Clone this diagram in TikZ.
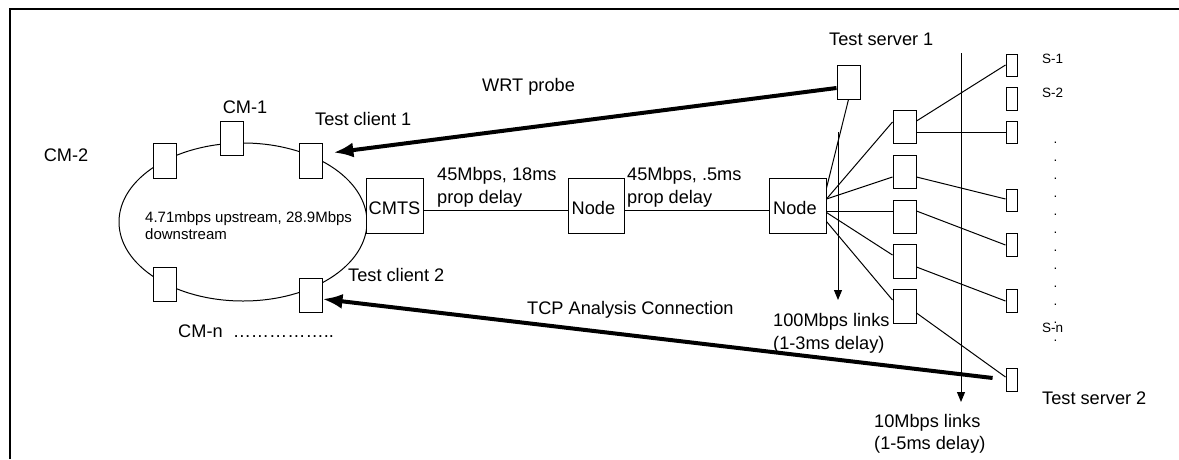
\documentclass[tikz,border=0pt]{standalone}
\usepackage{fontspec}
\setmainfont{Liberation Sans}
\usetikzlibrary{arrows.meta}
\begin{document}
\begin{tikzpicture}[x=1pt,y=-1pt,
  box/.style={draw, fill=white, line width=1pt, inner sep=0pt},
  cmbox/.style={box, minimum width=23pt, minimum height=34pt},
  bigbox/.style={box, minimum width=57pt, minimum height=55pt},
  srvbox/.style={box, minimum width=11pt, minimum height=22pt},
  thinline/.style={line width=1pt},
  thickarrow/.style={line width=4pt, -{Latex[length=20pt,width=15pt]}},
  downarrow/.style={line width=1pt, -{Triangle[length=10pt,width=8pt]}},
  lbl/.style={inner sep=0pt, anchor=base west, align=left, font=\fontsize{18.2}{22.5}\selectfont},
  smalllbl/.style={inner sep=0pt, anchor=base west, align=left, font=\fontsize{15}{17}\selectfont},
  slbl/.style={inner sep=0pt, anchor=base west, align=left, font=\fontsize{13.5}{18}\selectfont}
]
\useasboundingbox (0,0) rectangle (1179,459);
% frame
\draw[line width=2pt] (10,459) -- (10,9) -- (1179,9);
% cable ring
\draw[thinline] (243,222) ellipse [x radius=124, y radius=79];
\node[cmbox, minimum height=35pt] (cm2) at (164.5,160.5) {};
\node[cmbox] (cm1) at (232,138) {};
\node[cmbox, minimum height=35pt] (tc1) at (310.5,160.5) {};
\node[cmbox] (cmn) at (164.5,284) {};
\node[cmbox] (tc2) at (310.5,295) {};
% backbone
\node[bigbox] (cmts) at (394.5,205.5) {};
\node[bigbox, minimum width=56pt] (node1) at (596,205.5) {};
\node[bigbox] (node2) at (797.5,205.5) {};
% servers
\node[cmbox] (ts1) at (848.5,82) {};
\node[cmbox, minimum height=33pt] (mA) at (904.5,126.5) {};
\node[cmbox, minimum height=33pt] (mB) at (904.5,171.5) {};
\node[cmbox, minimum height=33pt] (mC) at (904.5,216.5) {};
\node[cmbox] (mD) at (904.5,261) {};
\node[cmbox] (mE) at (904.5,306) {};
\node[srvbox] (s1) at (1011.5,65) {};
\node[srvbox, minimum height=23pt] (s2) at (1011.5,98.5) {};
\node[srvbox] (s3) at (1011.5,132) {};
\node[srvbox] (s4) at (1011.5,200) {};
\node[srvbox, minimum height=23pt] (s5) at (1011.5,244.5) {};
\node[srvbox, minimum height=23pt] (s6) at (1011.5,300.5) {};
\node[srvbox, minimum height=23pt] (ts2) at (1011.5,379.5) {};
% links
\draw[thinline] ([yshift=-4.5pt]cmts.east) -- ([yshift=-4.5pt]node1.west);
\draw[thinline] ([yshift=-4.5pt]node1.east) -- ([yshift=-4.5pt]node2.west);
\draw[thinline] (ts1.south) -- ([yshift=17.5pt]node2.east);
\draw[thinline] ([yshift=6.5pt]node2.east) -- ([yshift=4.5pt]mA.west);
\draw[thinline] ([yshift=6.5pt]node2.east) -- ([yshift=-5.5pt]mB.west);
\draw[thinline] ([yshift=-5.5pt]node2.east) -- ([yshift=5.5pt]mC.west);
\draw[thinline] ([yshift=-7pt]node2.east) -- ([yshift=6pt]mD.west);
\draw[thinline] ([yshift=-16pt]node2.east) -- ([yshift=6pt]mE.west);
\draw[thinline] ([yshift=5.5pt]mA.east) -- (s1.west);
\draw[thinline] ([yshift=-5.5pt]mA.east) -- (s3.west);
\draw[thinline] ([yshift=-5.5pt]mB.east) -- ([yshift=1pt]s4.west);
\draw[thinline] ([yshift=5.5pt]mC.east) -- ([yshift=-0.5pt]s5.west);
\draw[thinline] ([yshift=-6pt]mD.east) -- ([yshift=-0.5pt]s6.west);
\draw[thinline] ([yshift=-7pt]mE.east) -- ([yshift=2.5pt]ts2.west);
% link-class arrows
\coordinate (hundredtop) at (838,132);
\coordinate (hundredend) at (838,300);
\coordinate (tentop) at (961,53);
\coordinate (tenend) at (961,402);
\draw[downarrow] (hundredtop) -- (hundredend);
\draw[downarrow] (tentop) -- (tenend);
% probe / analysis arrows
\draw[thickarrow, shorten >=11pt] ([yshift=-6pt]ts1.west) -- ([yshift=6.5pt]tc1.east);
\draw[thickarrow, shorten <=13pt] (ts2.west) -- ([yshift=-4pt]tc2.east);
% labels (base anchor of a multi-line node = baseline of its last line)
\node[lbl, anchor=base] (lcm2) at (66,161.5) {CM-2};
\node[lbl, anchor=base] (lcm1) at (245,113.5) {CM-1};
\node[lbl] (ltc1) at (315,125.5) {Test client 1};
\node[lbl] (lwrt) at (482,91.5) {WRT probe};
\node[smalllbl] (lring) at (145,239.4) {4.71mbps upstream, 28.9Mbps\\downstream};
\node[lbl] (lcmts) at (368.5,214.5) {CMTS};
\node[lbl] (lnode1) at (571.5,214.5) {Node};
\node[lbl] (lnode2) at (773,214.5) {Node};
\node[lbl] (llink1) at (437,203) {45Mbps, 18ms\\prop delay};
\node[lbl] (llink2) at (627,203) {45Mbps, .5ms\\prop delay};
\node[lbl] (ltc2) at (348,281.5) {Test client 2};
\node[lbl] (lcmn) at (178,337.5) {CM-n\ \ ……………..};
\node[lbl] (ltcp) at (527,314.5) {TCP Analysis Connection};
\node[lbl] (lhundred) at (773,349) {100Mbps links\\(1-3ms delay)};
\node[lbl] (lten) at (874,449.5) {10Mbps links\\(1-5ms delay)};
\node[lbl] (lts1) at (829,45.5) {Test server 1};
\node[lbl] (lts2) at (1042,404.5) {Test server 2};
\node[slbl] (ls1) at (1042,63.9) {S-1};
\node[slbl] (ls2) at (1042,97.9) {S-2};
\node[slbl] (lsn) at (1042,332.9) {S-n};
\node[slbl] (ldots) at (1053.5,341) {.\\.\\.\\.\\.\\.\\.\\.\\.\\.\\.\\.};
\end{tikzpicture}
\end{document}
